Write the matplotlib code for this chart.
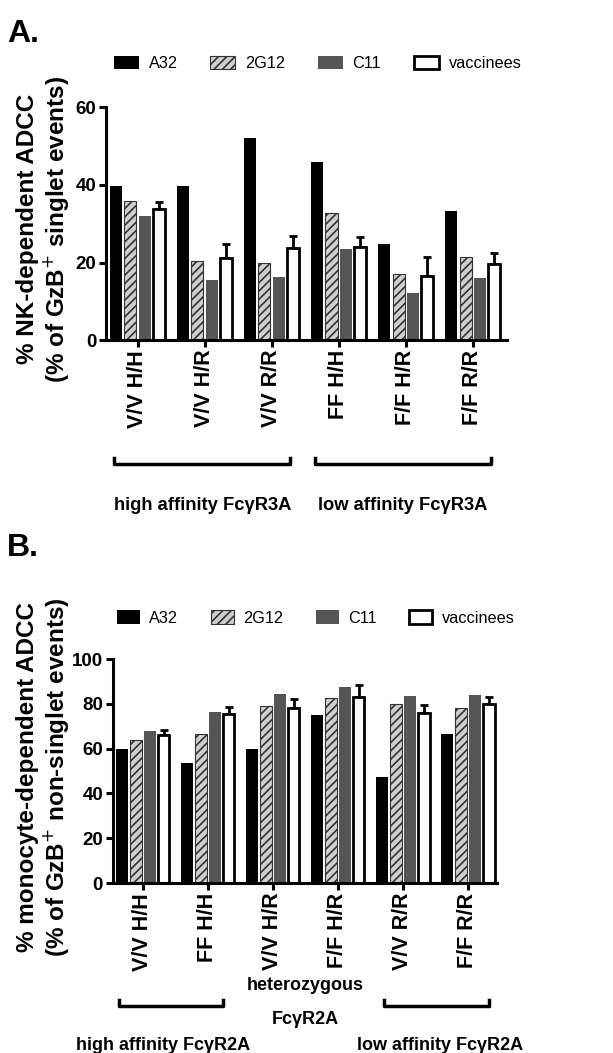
import matplotlib
matplotlib.use("Agg")
import matplotlib.pyplot as plt
import numpy as np

plt.rcParams['font.family'] = ['Liberation Sans', 'DejaVu Sans']
plt.rcParams['hatch.linewidth'] = 1.2

series = ['A32', '2G12', 'C11', 'vaccinees']

# panel A : NK-dependent ADCC
labels_a = ['V/V H/H', 'V/V H/R', 'V/V R/R', 'FF H/H', 'F/F H/R', 'F/F R/R']
a32_a = [39.7, 39.7, 52.2, 46.0, 24.8, 33.3]
g12_a = [35.8, 20.4, 19.8, 32.8, 17.0, 21.5]
c11_a = [32.0, 15.5, 16.3, 23.4, 12.2, 16.0]
vac_a = [33.7, 21.2, 23.7, 23.9, 16.5, 19.7]
vac_err_a = [1.8, 3.6, 3.1, 2.7, 4.9, 2.7]

# panel B : monocyte-dependent ADCC
labels_b = ['V/V H/H', 'FF H/H', 'V/V H/R', 'F/F H/R', 'V/V R/R', 'F/F R/R']
a32_b = [60.0, 53.8, 60.0, 75.0, 47.5, 66.5]
g12_b = [64.0, 66.8, 79.1, 82.6, 79.9, 78.3]
c11_b = [67.8, 76.6, 84.5, 87.6, 83.5, 84.2]
vac_b = [66.0, 75.5, 78.0, 83.3, 75.9, 79.9]
vac_err_b = [2.2, 3.0, 4.2, 5.2, 3.5, 3.1]

styles = [
    dict(color='black', edgecolor='black', linewidth=0),
    dict(color='#cfcfcf', edgecolor='#333333', hatch='////', linewidth=0.8),
    dict(color='#555555', edgecolor='#555555', linewidth=0),
    dict(color='white', edgecolor='black', linewidth=2),
]
offsets = [-0.32, -0.107, 0.107, 0.32]
bw = 0.18


def draw_panel(ax, vals, err, labels, ymax, ystep, xlim):
    x = np.arange(len(labels))
    handles = []
    for k in range(4):
        if k == 3:
            ax.errorbar(x + offsets[k], vals[k], yerr=[np.zeros(len(err)), err],
                        fmt='none', ecolor='black', elinewidth=2, capsize=3,
                        capthick=2, zorder=1)
        b = ax.bar(x + offsets[k], vals[k], bw, zorder=2, **styles[k])
        handles.append(b)
    ax.set_xlim(*xlim)
    ax.set_ylim(0, ymax)
    ax.set_yticks(np.arange(0, ymax + 1, ystep))
    ax.set_xticks(x)
    ax.set_xticklabels(labels, rotation=90, fontweight='bold', fontsize=15.5)
    for lab in ax.get_yticklabels():
        lab.set_fontweight('bold')
        lab.set_fontsize(13.5)
    ax.spines['top'].set_visible(False)
    ax.spines['right'].set_visible(False)
    ax.spines['left'].set_linewidth(2.2)
    ax.spines['bottom'].set_linewidth(2.2)
    ax.tick_params(axis='both', width=2.2, length=5, pad=2)
    return handles


fig = plt.figure(figsize=(6.13, 10.53), dpi=100)

axA = fig.add_axes([0.173, 0.677, 0.654, 0.221])
hA = draw_panel(axA, [a32_a, g12_a, c11_a, vac_a], vac_err_a, labels_a, 60, 20, (-0.47, 5.51))
axA.set_ylabel('% NK-dependent ADCC\n(% of GzB$^{+}$ singlet events)',
               fontweight='bold', fontsize=17.5, linespacing=1.1)
axA.yaxis.set_label_coords(-0.087, 0.476)

axB = fig.add_axes([0.184, 0.1614, 0.627, 0.2126])
hB = draw_panel(axB, [a32_b, g12_b, c11_b, vac_b], vac_err_b, labels_b, 100, 20, (-0.46, 5.45))
axB.set_ylabel('% monocyte-dependent ADCC\n(% of GzB$^{+}$ non-singlet events)',
               fontweight='bold', fontsize=17.5, linespacing=1.1)
axB.yaxis.set_label_coords(-0.109, 0.473)

# legends
fig.legend(hA, series, loc='center', bbox_to_anchor=(0.518, 0.94), ncol=4,
           frameon=False, fontsize=11.7, handlelength=1.55, handleheight=0.9,
           columnspacing=2.0, handletextpad=0.6)
fig.legend(hB, series, loc='center', bbox_to_anchor=(0.515, 0.413), ncol=4,
           frameon=False, fontsize=11.7, handlelength=1.4, handleheight=0.9,
           columnspacing=2.0, handletextpad=0.6)

# panel letters
fig.text(0.012, 0.968, 'A.', fontsize=23, fontweight='bold', va='center')
fig.text(0.012, 0.48, 'B.', fontsize=23, fontweight='bold', va='center')


def bracket(x0, x1, y):
    h = 6 / 1053
    fig.add_artist(plt.Line2D([x0 / 613, x0 / 613, x1 / 613, x1 / 613],
                              [y + h, y, y, y + h], color='black', lw=2.5,
                              transform=fig.transFigure))


# panel A brackets
yA = 1 - 464 / 1053
bracket(114, 290, yA)
bracket(315, 491, yA)
fig.text(203 / 613, 1 - 506 / 1053, 'high affinity Fc\u03b3R3A', ha='center', va='center',
         fontsize=13.2, fontweight='bold')
fig.text(403 / 613, 1 - 506 / 1053, 'low affinity Fc\u03b3R3A', ha='center', va='center',
         fontsize=13.2, fontweight='bold')

# panel B brackets
yB = 1 - 1006 / 1053
bracket(119, 223, yB)
bracket(384, 489, yB)
fig.text(305 / 613, 1 - 985 / 1053, 'heterozygous', ha='center', va='center',
         fontsize=13, fontweight='bold')
fig.text(305 / 613, 1 - 1020 / 1053, 'Fc\u03b3R2A', ha='center', va='center',
         fontsize=13, fontweight='bold')
fig.text(163 / 613, 1 - 1045 / 1053, 'high affinity Fc\u03b3R2A', ha='center', va='center',
         fontsize=13, fontweight='bold')
fig.text(440 / 613, 1 - 1045 / 1053, 'low affinity Fc\u03b3R2A', ha='center', va='center',
         fontsize=13, fontweight='bold')

fig.savefig('out.png', dpi=100)
